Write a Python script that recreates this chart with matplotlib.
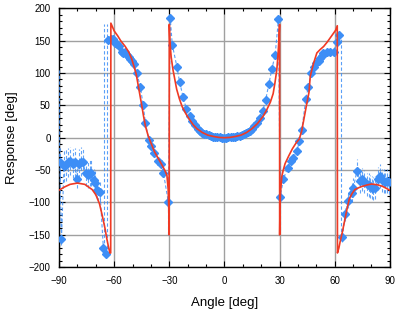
import matplotlib
matplotlib.use("Agg")
import matplotlib.pyplot as plt
import numpy as np

# theory curve (red)
theory_x = [-90, -87, -84, -80, -76, -72, -70, -68, -66.5, -65, -64, -63, -62.3, -61.9,
            -61.8, -60, -58, -56.5, -54, -52, -50.5, -49, -48, -47, -46, -45, -44, -43,
            -41.5, -40, -38, -36, -34, -32.5, -31.3, -30.6, -30.3, -30.1,
            -30.0, -29.7, -29, -28, -27, -26, -24.5, -23, -21, -19, -17, -15, -12, -9,
            -6, -3, 0, 3, 6, 9, 12, 15, 18, 21, 23, 25, 26.5, 27.5, 28.5, 29.2, 29.7,
            30.0, 30.05, 30.2, 30.5, 31.2, 32, 33, 35, 37, 39, 40.7, 42, 43, 44.5, 46,
            46.7, 48.5, 50.3, 52, 54, 56, 57.5, 59, 60.5, 61.4,
            61.5, 62.3, 63, 64, 65, 66, 67, 68, 69.5, 71, 74, 77.5, 80, 83, 86, 88, 90]
theory_y = [-81, -76, -72, -70, -72, -80, -88, -102, -120, -140, -156, -170, -178, -178,
            177, 165, 157, 150, 141, 132, 122, 108, 98, 82, 66, 50, 33, 18,
            3, -8, -22, -32, -42, -50, -58, -80, -110, -150,
            175, 150, 125, 105, 90, 75, 60, 48, 37, 28, 20, 14, 8, 4,
            2, 0.5, 0, 0.5, 2, 4, 8, 14, 22, 33, 43, 55, 68, 85, 105, 130, 155,
            175, -150, -115, -85, -60, -50, -40, -28, -17, -8, -2, 10, 25, 48, 70,
            95, 115, 131, 136, 141, 148, 154, 160, 166, 173,
            -178, -170, -160, -148, -134, -120, -106, -94, -86, -80, -76, -73, -71.5,
            -72.5, -75, -78, -81]

# measured response (blue), nan marks a phase wrap
meas_x = [-89.6, -88.7, -87.3, -86.0, -85.0, -83.8, -82.5, -81.4, -80.4, -79.3, -78.2,
          -77.0, -75.6, -74.5, -73.4, -72.4, -71.2, -70.4, -69.5, -68.6, -67.7, -65.9,
          -64.6, -64.0,
          -63.1, -61.6, -60.4, -59.4, -58.6, -57.5, -56.0, -55.0, -54.0, -53.0, -52.2,
          -51.3, -50.4, -49.3, -47.7, -45.8, -44.2, -43.0, -41.2, -39.8, -38.5, -35.9,
          -34.6, -33.2, -30.5, -29.5, -28.4, -25.9, -24.4, -22.5, -20.7, -19.0, -17.7,
          -16.2, -14.6, -13.4, -12.2, -11.0, -9.8, -8.6, -7.4, -6.2, -5.0, -3.8, -2.6,
          -1.4, -0.2, 1.0, 2.2, 3.4, 4.6, 5.8, 7.0, 8.2, 9.4, 10.6, 11.8, 13.0, 14.0,
          14.9, 16.3, 17.6, 19.4, 20.9, 22.4, 24.2, 25.8, 27.6, 29.4, 30.3, 32.1, 34.4,
          36.1, 37.5, 39.4, 40.8, 42.1, 44.3, 45.7, 47.2, 48.5, 49.9, 51.2, 52.1, 53.1,
          53.9, 55.7, 57.5, 59.4, 61.2, 62.1, 63.0,
          64.2, 65.7, 67.5, 69.4, 70.2, 72.1, 73.9, 75.0, 76.0, 77.5, 78.4, 79.3, 80.2,
          81.1, 82.0, 83.8, 84.8, 85.7, 86.6, 87.5, 88.7, 89.5]
meas_y = [-38, -157, -44, -42, -38, -36, -40, -38, -63, -40, -37,
          -38, -54, -57, -55, -55, -66, -70, -80, -82, -84, -170,
          -179, np.nan,
          151, 153, 152, 147, 145, 141, 132, 131, 133, 128, 125,
          121, 118, 114, 100, 79, 50, 23, -3, -13, -23, -36,
          -41, -54, -100, 185, 144, 110, 86, 63, 44, 33, 26,
          19, 14, 11, 8, 6, 5, 3.5, 2.5, 1.8, 1.2, 0.8, 0.5,
          0.3, 0.2, 0.3, 0.5, 0.8, 1.2, 1.6, 2.2, 3, 4, 5.5, 7, 9, 11,
          13, 18, 23, 31, 42, 58, 83, 106, 128, 183, -92, -64, -46,
          -36, -31, -21, -5, 12, 60, 79, 100, 110, 115, 119, 123, 127,
          131, 132, 132, 133, 148, 159, np.nan,
          -153, -118, -97, -85, -77, -51, -67, -64, -68, -72, -73, -75, -77,
          -78, -77, -63, -59, -66, -67, -68, -67, -69]
meas_err = [25, 8, 25, 25, 22, 22, 22, 22, 15, 22, 22,
            20, 20, 20, 20, 20, 18, 18, 15, 15, 15, 8,
            5, 0,
            5, 4, 4, 3, 3, 3, 3, 3, 3, 3, 3,
            3, 3, 3, 3, 3, 3, 3, 3, 3, 3, 3,
            3, 3, 50, 3, 3, 3, 3, 3, 3, 3, 3,
            2, 2, 2, 2, 2, 2, 2, 2, 2, 2, 2, 2,
            2, 2, 2, 2, 2, 2, 2, 2, 2, 2, 2, 2, 2, 2,
            2, 2, 2, 3, 3, 3, 3, 3, 3, 3, 50, 3, 3,
            3, 3, 3, 3, 3, 3, 3, 3, 3, 3, 3, 3, 3,
            3, 3, 3, 3, 3, 3, 0,
            8, 10, 12, 15, 15, 18, 18, 18, 18, 18, 18, 18, 18,
            18, 18, 18, 18, 18, 18, 18, 18, 18]

# vertical dashed lines where the error band wraps around +-180
wrap_x = [-89.9, -65.3, -63.7, 63.6]
wrap_lo = [-38, -180, -180, -153]
wrap_hi = [105, 176, 176, 159]

xticks = [-90, -60, -30, 0, 30, 60, 90]
yticks = [-200, -150, -100, -50, 0, 50, 100, 150, 200]

blue = "#3d8ef6"
red = "#f03a24"

plt.rcParams['font.family'] = ['Liberation Sans', 'DejaVu Sans']

fig = plt.figure(figsize=(3.99, 3.17), dpi=100)
ax = fig.add_axes([0.148, 0.157, 0.829, 0.817])

ax.vlines(wrap_x, wrap_lo, wrap_hi, colors=blue, linestyles=(0, (3, 2)),
          linewidth=0.8, alpha=0.85, zorder=3)
line, caps, bars = ax.errorbar(meas_x, meas_y, yerr=meas_err, fmt='D', ms=4.0,
                               color=blue, ecolor=blue, elinewidth=0.8,
                               capsize=0, zorder=4)
bars[0].set_linestyle((0, (3, 2)))
bars[0].set_alpha(0.8)
ax.plot(meas_x, meas_y, color=blue, lw=0.8, dashes=(3, 2), alpha=0.85, zorder=3)
ax.plot(theory_x, theory_y, color=red, lw=1.2, zorder=5)

ax.set_xlim(-90, 90)
ax.set_ylim(-200, 200)
ax.set_xticks(xticks)
ax.set_yticks(yticks)
ax.set_xticks(np.arange(-90, 91, 10), minor=True)
ax.set_yticks(np.arange(-200, 201, 10), minor=True)
ax.tick_params(which='both', direction='in', top=True, right=True, labelsize=7,
               width=0.8, color='black')
ax.tick_params(which='major', length=4, pad=6)
ax.tick_params(which='minor', length=2.5)
ax.grid(True, which='major', color='#a0a0a0', lw=1.0)
ax.set_axisbelow(True)
for s in ax.spines.values():
    s.set_linewidth(1.0)

ax.set_xlabel("Angle [deg]", fontsize=9.5, labelpad=8)
ax.set_ylabel("Response [deg]", fontsize=9.5, labelpad=8)

fig.savefig("out.png", dpi=100)
